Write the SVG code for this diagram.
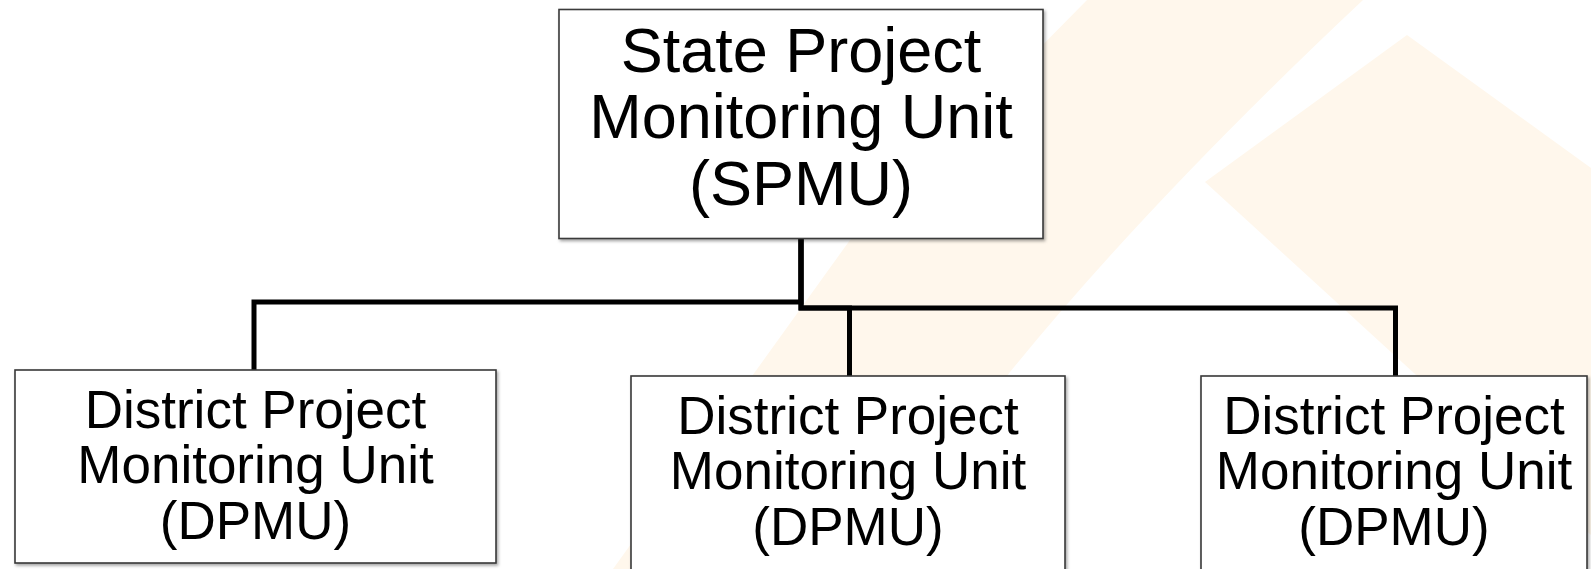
<svg xmlns="http://www.w3.org/2000/svg" width="1591" height="569" viewBox="0 0 1591 569">
  <defs>
    <filter id="shadow" x="-5%" y="-5%" width="110%" height="115%">
      <feDropShadow dx="1.5" dy="2" stdDeviation="1.5" flood-color="#000" flood-opacity="0.35"/>
    </filter>
    <style>
      .box { fill: #ffffff; stroke: #3a3a3a; stroke-width: 1.6; filter: url(#shadow); }
      .t62 { font-family: "Liberation Sans", Arial, sans-serif; font-size: 63px; fill: #000; text-anchor: middle; }
      .t53 { font-family: "Liberation Sans", Arial, sans-serif; font-size: 53px; fill: #000; text-anchor: middle; }
      .conn { fill: none; stroke: #000; stroke-width: 5; stroke-linejoin: miter; }
      .wm { fill: #fff7ec; }
    </style>
  </defs>
  <rect width="1591" height="569" fill="#ffffff"/>
  <g id="watermark">
    <path class="wm" d="M1087,0 L1363,0 Q1150,200 1010,372 L866,569 L613,569 L850,240 Z"/>
    <path class="wm" d="M1407,35 L1591,168 L1591,535 L1205,182 Z"/>
  </g>
  <g id="connectors">
    <path class="conn" d="M801,239 V302 H254 V370"/>
    <path class="conn" d="M801,239 V308 H849.5 V376"/>
    <path class="conn" d="M801,239 V308 H1395.5 V376"/>
  </g>
  <g id="spmu">
    <rect class="box" x="559" y="9.5" width="484" height="229"/>
    <text class="t62" x="801" y="72">State Project</text>
    <text class="t62" x="801" y="138">Monitoring Unit</text>
    <text class="t62" x="801" y="205">(SPMU)</text>
  </g>
  <g id="dpmu1">
    <rect class="box" x="15" y="370" width="481" height="193"/>
    <text class="t53" x="255.5" y="428">District Project</text>
    <text class="t53" x="255.5" y="483">Monitoring Unit</text>
    <text class="t53" x="255.5" y="539">(DPMU)</text>
  </g>
  <g id="dpmu2">
    <rect class="box" x="631" y="376" width="434" height="200"/>
    <text class="t53" x="848" y="434">District Project</text>
    <text class="t53" x="848" y="489">Monitoring Unit</text>
    <text class="t53" x="848" y="545">(DPMU)</text>
  </g>
  <g id="dpmu3">
    <rect class="box" x="1201" y="376" width="386" height="200"/>
    <text class="t53" x="1394" y="434">District Project</text>
    <text class="t53" x="1394" y="489">Monitoring Unit</text>
    <text class="t53" x="1394" y="545">(DPMU)</text>
  </g>
</svg>
